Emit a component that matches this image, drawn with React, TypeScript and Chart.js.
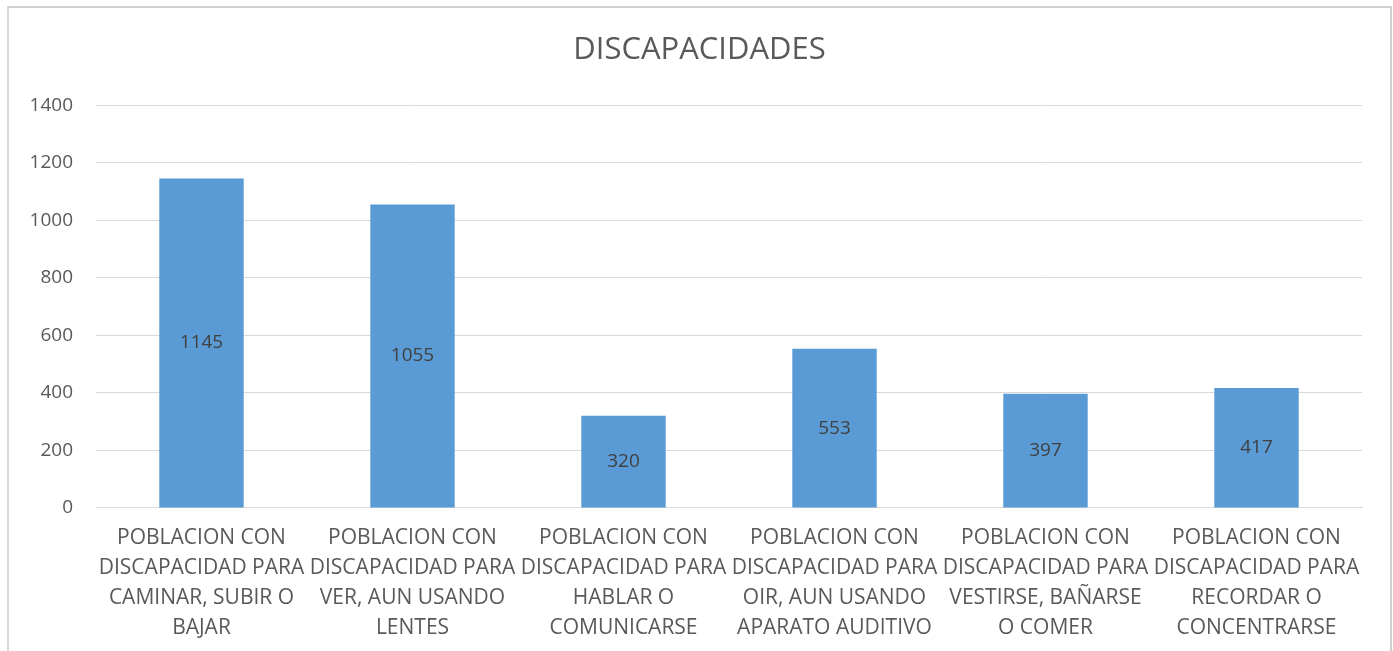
import React, { useEffect, useRef } from "react";
import { Chart, registerables } from "chart.js";

Chart.register(...registerables);

const title = "DISCAPACIDADES";
const categories: string[][] = [
  ["POBLACION CON", "DISCAPACIDAD PARA", "CAMINAR, SUBIR O", "BAJAR"],
  ["POBLACION CON", "DISCAPACIDAD PARA", "VER, AUN USANDO", "LENTES"],
  ["POBLACION CON", "DISCAPACIDAD PARA", "HABLAR O", "COMUNICARSE"],
  ["POBLACION CON", "DISCAPACIDAD PARA", "OIR, AUN USANDO", "APARATO AUDITIVO"],
  ["POBLACION CON", "DISCAPACIDAD PARA", "VESTIRSE, BAÑARSE", "O COMER"],
  ["POBLACION CON", "DISCAPACIDAD PARA", "RECORDAR O", "CONCENTRARSE"],
];
const values: number[] = [1145, 1055, 320, 553, 397, 417];
const yMin = 0;
const yMax = 1400;
const yStep = 200;

const FONT = "'Open Sans', sans-serif";

const barLabels = {
  id: "barLabels",
  afterDatasetsDraw(chart: any) {
    const ctx = chart.ctx;
    const meta = chart.getDatasetMeta(0);
    ctx.save();
    ctx.font = `19px ${FONT}`;
    ctx.fillStyle = "#404040";
    ctx.textAlign = "center";
    ctx.textBaseline = "middle";
    meta.data.forEach((bar: any, i: number) => {
      const { x, y, base } = bar.getProps(["x", "y", "base"], true);
      ctx.fillText(String(values[i]), x, (y + base) / 2);
    });
    ctx.restore();
  },
};

export default function App() {
  const ref = useRef<HTMLCanvasElement>(null);
  useEffect(() => {
    if (!ref.current) return;
    const chart = new Chart(ref.current, {
      type: "bar",
      data: {
        labels: categories,
        datasets: [
          {
            data: values,
            backgroundColor: "#5B9BD5",
            barPercentage: 0.4,
            categoryPercentage: 1,
            yAxisID: "y",
          },
        ],
      },
      options: {
        animation: false,
        responsive: false,
        layout: { padding: { left: 0, right: 0, top: 0, bottom: 0 } },
        plugins: {
          legend: { display: false },
          tooltip: { enabled: false },
          title: {
            display: true,
            text: title,
            color: "#595959",
            font: { family: FONT, size: 31, weight: "normal" },
            padding: { top: 24, bottom: 36 },
          },
        },
        scales: {
          x: {
            grid: { display: false, drawTicks: false },
            border: { display: true, color: "#d9d9d9", width: 1 },
            ticks: {
              color: "#595959",
              font: { family: FONT, size: 21, lineHeight: 1.43 },
              maxRotation: 0,
              minRotation: 0,
              autoSkip: false,
              padding: 15,
            },
          },
          y: {
            position: "left",
            min: yMin,
            max: yMax,
            afterFit: (scale: any) => {
              scale.width = 87;
            },
            grid: { color: "#d9d9d9", lineWidth: 1, drawTicks: false },
            border: { display: false },
            ticks: {
              stepSize: yStep,
              color: "#595959",
              font: { family: FONT, size: 19 },
              padding: 23,
              callback: (v: any) => String(v),
            },
          },
          yRight: {
            position: "right",
            display: true,
            afterFit: (scale: any) => {
              scale.width = 28;
            },
            grid: { display: false, drawTicks: false },
            border: { display: false },
            ticks: { display: false },
          },
        },
      },
      plugins: [barLabels],
    });
    return () => chart.destroy();
  }, []);
  return (
    <div
      style={{
        position: "absolute",
        left: 7,
        top: 6,
        width: 1385,
        height: 645,
        borderTop: "2px solid #cfcfcf",
        borderLeft: "2px solid #d9d9d9",
        borderRight: "2px solid #cfcfcf",
        boxSizing: "border-box",
        background: "#fff",
        overflow: "hidden",
      }}
    >
      <canvas ref={ref} width={1381} height={650} style={{ display: "block" }} />
    </div>
  );
}
